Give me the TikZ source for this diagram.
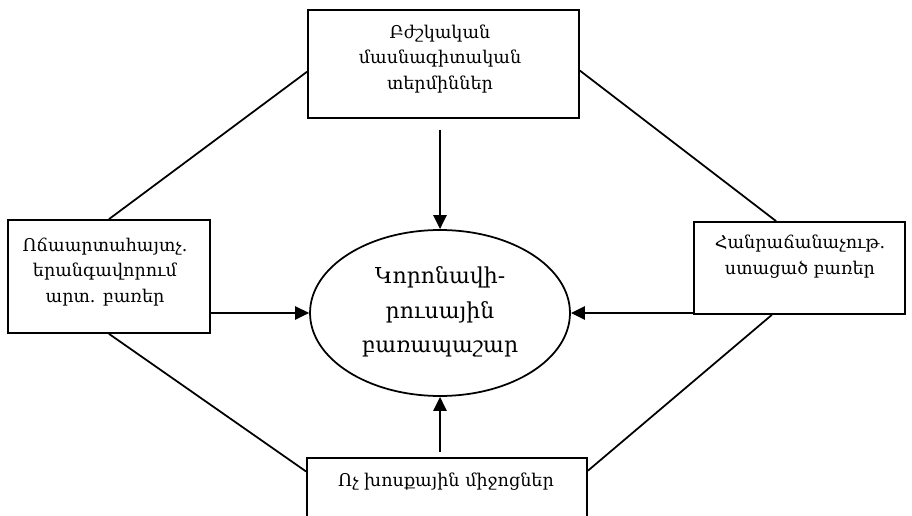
\documentclass[tikz,border=0pt]{standalone}
\usepackage{fontspec}
\setmainfont{DejaVu Serif}
\usetikzlibrary{arrows.meta,calc,shapes.geometric}
\tikzset{
  box/.style={draw, rectangle, inner sep=0pt, line width=1pt},
  lbl/.style={align=center, font=\fontsize{10pt}{14.7pt}\selectfont, inner sep=0pt},
  conn/.style={line width=1pt},
  arr/.style={line width=1.4pt, -{Triangle[length=8pt,width=7.5pt]}}
}
\begin{document}
\begin{tikzpicture}[x=0.02cm,y=-0.02cm]
\useasboundingbox (0,0) rectangle (912,516);
\clip (0,0) rectangle (912,516);
\fill[white] (0,0) rectangle (912,516);
% boxes
\node[box, minimum width=5.42cm, minimum height=2.16cm] (top) at (443.5,64) {};
\node[box, minimum width=4.04cm, minimum height=2.26cm] (lbox) at (109,276.5) {};
\node[box, minimum width=4.22cm, minimum height=1.84cm] (rbox) at (799.5,268) {};
\node[box, minimum width=5.6cm, minimum height=1.48cm] (bbox) at (447,495) {};
\node[draw, ellipse, line width=1pt, inner sep=0pt, minimum width=5.2cm, minimum height=3.32cm] (ell) at (440,313) {};
% texts
\node[lbl] (ttop) at (440,59) {Բժշկական\\մասնագիտական\\տերմիններ};
\node[lbl] (tl) at (105,272) {Ոճաարտահայտչ.\\երանգավորում\\արտ. բառեր};
\node[lbl] (tr) at (800,257) {Հանրաճանաչութ.\\ստացած բառեր};
\node[lbl] (tb) at (446,482) {Ոչ խոսքային միջոցներ};
\node[lbl, font=\fontsize{12.5pt}{19.5pt}\selectfont] (tc) at (440,312) {Կորոնավի-\\րուսային\\բառապաշար};
% connectors
\draw[conn] ($(top.north west)!0.57!(top.south west)$) -- (lbox.north);
\draw[conn] ($(top.north east)!0.56!(top.south east)$) -- ($(rbox.north west)!0.39!(rbox.north east)$);
\draw[conn] (lbox.south) -- ($(bbox.north west)!0.19!(bbox.south west)$);
\draw[conn] ($(rbox.south west)!0.37!(rbox.south east)$) -- ($(bbox.north east)!0.18!(bbox.south east)$);
% arrows
\draw[arr] ($(ell.north |- top.south)+(0,11)$) -- (ell.north);
\draw[arr] ($(ell.south |- bbox.north)+(0,-5)$) -- (ell.south);
\draw[arr] (lbox.east |- ell.west) -- (ell.west);
\draw[arr] (rbox.west |- ell.east) -- (ell.east);
\end{tikzpicture}
\end{document}
